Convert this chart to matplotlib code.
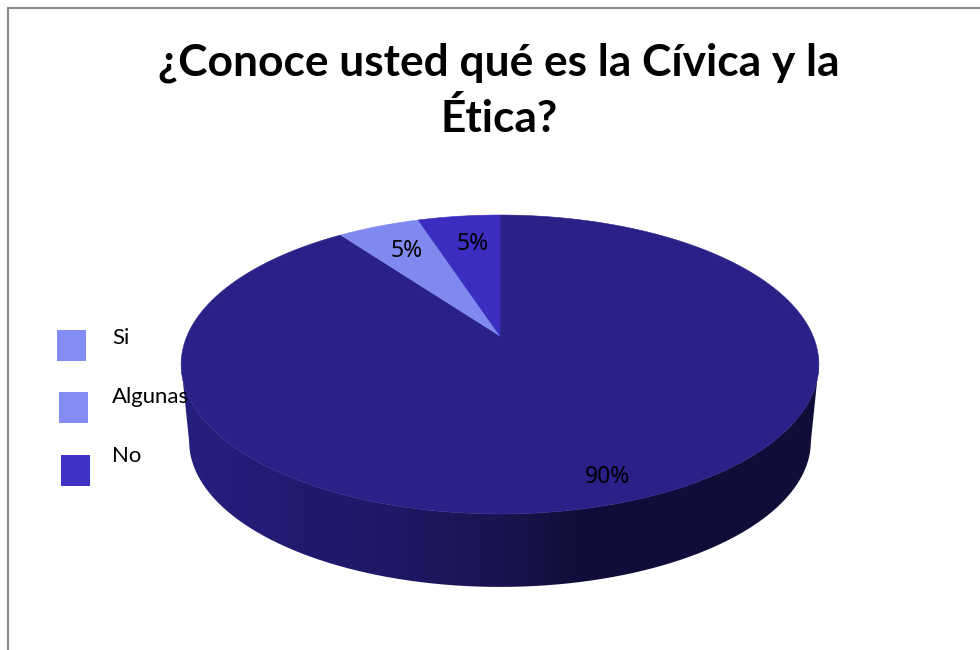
import numpy as np
import matplotlib
matplotlib.use("Agg")
import matplotlib.pyplot as plt
from matplotlib.patches import PathPatch, Rectangle
from matplotlib.path import Path
from matplotlib.colors import to_rgb

TITLE = "¿Conoce usted qué es la Cívica y la\nÉtica?"
categories = ["Si", "Algunas", "No"]
# slices run clockwise from 12 o'clock
slice_values = [90, 5, 5]
slice_colors = ["#2a2188", "#7f89f0", "#392ec0"]
legend_colors = ["#828cf4", "#828cf4", "#3e33c6"]

# ── perspective disc, everything in pixel coordinates ──
K = 0.1906


def rim(theta):
    xd, yd = np.sin(theta), np.cos(theta)
    den = 1 + K * yd
    return 500.0 + 313.0 * xd / den, (336.0 - 80.0 * yd) / den


fig = plt.figure(figsize=(9.8, 6.5), dpi=100)
ax = fig.add_axes([0, 0, 1, 1])

# frame on the top and left only
ax.plot([8, 8, 980], [650, 8, 8], color="#8a8a8a", lw=1.5, solid_joinstyle="miter")

# side wall with a horizontal shade; the lower rim is the upper one shrunk and dropped
t = np.linspace(0, 2 * np.pi, 1441)
top_x, top_y = rim(t)
shrink = 0.975
bot_x = 500 + shrink * (top_x - 500)
bot_y = 441.2 + shrink * (top_y - 364.5)
r_top, l_top = np.argmax(top_x), np.argmin(top_x)
r_bot, l_bot = np.argmax(bot_x), np.argmin(bot_x)
wall = np.vstack([
    np.column_stack([bot_x[r_bot:l_bot + 1], bot_y[r_bot:l_bot + 1]]),
    np.column_stack([top_x[r_top:l_top + 1][::-1], top_y[r_top:l_top + 1][::-1]]),
])
stops_x = [180, 300, 400, 500, 570, 820]
stops_c = [to_rgb(c) for c in ["#25207e", "#211b70", "#1e1865", "#1a1450", "#110e3c", "#100d38"]]
cols = np.arange(180, 824, 12) + 6
shade = np.stack([np.interp(cols, stops_x, [c[i] for c in stops_c]) for i in range(3)], axis=-1)
im = ax.imshow(shade[np.newaxis, :, :], extent=[180, 824, 600, 340], aspect="auto",
               interpolation="nearest", zorder=2)
clip = PathPatch(Path(wall), transform=ax.transData, fc="none", ec="none")
ax.add_patch(clip)
im.set_clip_path(clip)

# top face
edges = np.cumsum([0] + slice_values) / sum(slice_values) * 2 * np.pi
for start, end, color in zip(edges[:-1], edges[1:], slice_colors):
    th = np.linspace(start, end, max(int((end - start) * 200), 30))
    xs, ys = rim(th)
    ax.fill(np.r_[500.0, xs], np.r_[336.0, ys], color=color, lw=0.4, zorder=3)

# percentage labels
for val, (lx, ly) in zip(slice_values, [(607, 477), (406.5, 251), (472.5, 244.5)]):
    ax.text(lx, ly, f"{val}%", ha="center", va="center", fontsize=16.5,
            family="Noto Sans", color="#000000", zorder=5)

# legend
for name, color, (sx, sy), (tx, ty) in zip(
    categories, legend_colors,
    [(57, 330), (59, 392), (61, 455)],
    [(112, 338), (112, 397), (112, 456)],
):
    ax.add_patch(Rectangle((sx, sy), 29, 31, fc=color, ec="none", zorder=4))
    ax.text(tx, ty, name, ha="left", va="center", fontsize=15.9,
            family="Lato", color="#000000", zorder=5)

ax.text(499, 90.5, TITLE, ha="center", va="center", fontsize=31.9, fontweight="bold",
        family="Lato", color="#000000", linespacing=1.455, zorder=5)

ax.set_xlim(0, 980)
ax.set_ylim(650, 0)
ax.axis("off")

fig.savefig("out.png", dpi=100, facecolor="white")
plt.close(fig)
